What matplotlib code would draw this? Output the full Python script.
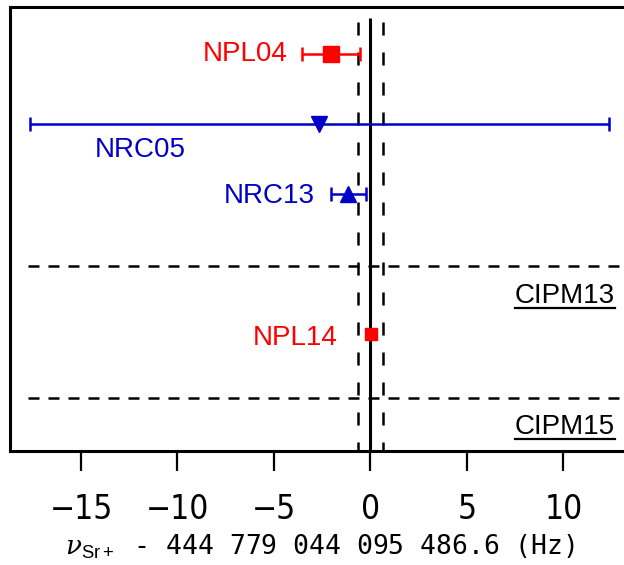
import matplotlib
matplotlib.use("Agg")
import matplotlib.pyplot as plt
from matplotlib.lines import Line2D
from matplotlib.transforms import IdentityTransform

plt.rcParams["lines.scale_dashes"] = False
plt.rcParams["mathtext.fontset"] = "custom"
plt.rcParams["mathtext.rm"] = "Liberation Sans"
plt.rcParams["mathtext.it"] = "DejaVu Serif:italic"

# Measurements of the Sr+ clock transition, offset from 444 779 044 095 486.6 Hz
labels = ["NPL04", "NRC05", "NRC13", "NPL14"]
values = [-2.05, -2.65, -1.15, 0.05]
errors = [1.5, 15.0, 0.9, 0.25]
rows = [1, 2, 3, 5]
colors = ["#ff0000", "#0000c8", "#0000c8", "#ff0000"]
markers = ["s", "v", "^", "s"]

# CIPM recommended values (separator rows) and the recommended uncertainty band
cipm_labels = ["CIPM13", "CIPM15"]
cipm_rows = [4.03, 5.91]
cipm_band = [-0.65, 0.65]

fig = plt.figure(figsize=(6.24, 5.65), dpi=100)
ax = fig.add_axes([10 / 624, 114 / 565, 620 / 624, 444 / 565])

for lab, v, e, r, c, m in zip(labels, values, errors, rows, colors, markers):
    small = lab == "NPL14"
    ax.errorbar(v, r, xerr=e, fmt=m, color=c, ms=8 if small else 11,
                elinewidth=1.8, capsize=3 if small else 5, capthick=1.8, zorder=4)

# vertical reference lines
ax.vlines(0, 0.486, 6.67, color="black", lw=2.2, zorder=3)
ax.vlines(cipm_band, 0.55, 6.67, color="black", lw=1.8,
          linestyles=[(0, (9.4, 12.2))], zorder=3)

# CIPM separators
ax.hlines(cipm_rows, -17.75, 13.45, color="black", lw=1.8,
          linestyles=[(0, (7.9, 6.5))], zorder=3)

lab_font = dict(family=["Liberation Sans", "DejaVu Sans"], fontsize=20)
ax.text(-4.27, 1.0, "NPL04", color="#ff0000", ha="right", va="center", **lab_font)
ax.text(-14.27, 2.37, "NRC05", color="#0000c8", ha="left", va="center", **lab_font)
ax.text(-2.88, 3.03, "NRC13", color="#0000c8", ha="right", va="center", **lab_font)
ax.text(-1.68, 5.05, "NPL14", color="#ff0000", ha="right", va="center", **lab_font)

cipm_texts = []
for lab, r in zip(cipm_labels, cipm_rows):
    t = ax.text(12.67, r + 0.42, lab, color="black", ha="right", va="center", **lab_font)
    cipm_texts.append(t)

ax.set_xlim(-18.68, 13.45)
ax.set_ylim(6.67, 0.33)
ax.set_xticks([-15, -10, -5, 0, 5, 10])
ax.set_yticks([])

for side in ["left", "top", "bottom", "right"]:
    ax.spines[side].set_linewidth(2.2)

ax.tick_params(axis="x", direction="out", length=14.4, width=1.6, pad=16,
               labelsize=24)
for tl in ax.get_xticklabels():
    tl.set_family(["DejaVu Sans", "Liberation Sans"])
    tl.set_stretch("condensed")

ax.set_xlabel(r"$\nu_{\mathrm{Sr+}}$ - 444 779 044 095 486.6 (Hz)",
              family=["DejaVu Sans Mono", "DejaVu Sans"], fontsize=19, labelpad=5)

# underline the CIPM labels
fig.canvas.draw()
for t in cipm_texts:
    bb = t.get_window_extent()
    fig.add_artist(Line2D([bb.x0, bb.x1], [bb.y0 + 1, bb.y0 + 1],
                          transform=IdentityTransform(), color="black", lw=1.6))

fig.savefig("out.png", dpi=100)
